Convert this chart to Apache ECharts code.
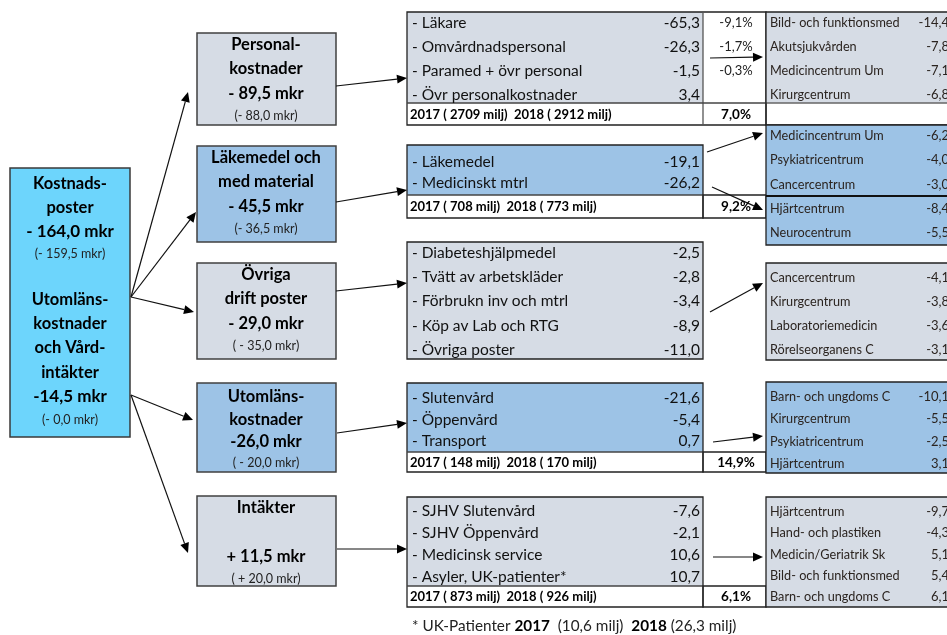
<!DOCTYPE html>
<html>
<head>
<meta charset="utf-8">
<script src="https://cdn.jsdelivr.net/npm/echarts@6/dist/echarts.min.js"></script>
<style>
html, body { margin: 0; padding: 0; background: #fff; }
#main { width: 947px; height: 635px; }
</style>
</head>
<body>
<div id="main"></div>
<script>
// totalt
var kostnadTotal = '- 164,0 mkr';
var kostnadPrev = '(- 159,5 mkr)';
var utomTotal = '-14,5 mkr';
var utomPrev = '(- 0,0 mkr)';

// huvudposter
var groupTitles = [['Personal-', 'kostnader'], ['Läkemedel och', 'med material'], ['Övriga', 'drift poster'], ['Utomläns-', 'kostnader'], ['Intäkter', '']];
var groupTotals = ['- 89,5 mkr', '- 45,5 mkr', '- 29,0 mkr', '-26,0 mkr', '+ 11,5 mkr'];
var groupPrev = ['(- 88,0 mkr)', '(- 36,5 mkr)', '( - 35,0 mkr)', '( - 20,0 mkr)', '( + 20,0 mkr)'];

// delposter
var personalRows = ['Läkare', 'Omvårdnadspersonal', 'Paramed + övr personal', 'Övr personalkostnader'];
var personalValues = [-65.3, -26.3, -1.5, 3.4];
var personalPct = [-9.1, -1.7, -0.3];
var lakemedelRows = ['Läkemedel', 'Medicinskt mtrl'];
var lakemedelValues = [-19.1, -26.2];
var ovrigaRows = ['Diabeteshjälpmedel', 'Tvätt av arbetskläder', 'Förbrukn inv och mtrl', 'Köp av Lab och RTG', 'Övriga poster'];
var ovrigaValues = [-2.5, -2.8, -3.4, -8.9, -11.0];
var utomRows = ['Slutenvård', 'Öppenvård', 'Transport'];
var utomValues = [-21.6, -5.4, 0.7];
var intakterRows = ['SJHV Slutenvård', 'SJHV Öppenvård', 'Medicinsk service', 'Asyler, UK-patienter*'];
var intakterValues = [-7.6, -2.1, 10.6, 10.7];

var milj2017 = [2709, 708, null, 148, 873];
var milj2018 = [2912, 773, null, 170, 926];
var growth = [7.0, 9.2, null, 14.9, 6.1];

// centrum
var personalUnits = ['Bild- och funktionsmed', 'Akutsjukvården', 'Medicincentrum Um', 'Kirurgcentrum'];
var personalUnitValues = [-14.4, -7.8, -7.1, -6.8];
var lakemedelUnits = ['Medicincentrum Um', 'Psykiatricentrum', 'Cancercentrum', 'Hjärtcentrum', 'Neurocentrum'];
var lakemedelUnitValues = [-6.2, -4.0, -3.0, -8.4, -5.5];
var ovrigaUnits = ['Cancercentrum', 'Kirurgcentrum', 'Laboratoriemedicin', 'Rörelseorganens C'];
var ovrigaUnitValues = [-4.1, -3.8, -3.6, -3.1];
var utomUnits = ['Barn- och ungdoms C', 'Kirurgcentrum', 'Psykiatricentrum', 'Hjärtcentrum'];
var utomUnitValues = [-10.1, -5.5, -2.5, 3.1];
var intakterUnits = ['Hjärtcentrum', 'Hand- och plastiken', 'Medicin/Geriatrik Sk', 'Bild- och funktionsmed', 'Barn- och ungdoms C'];
var intakterUnitValues = [-9.7, -4.3, 5.1, 5.4, 6.1];

var ukPatienter = [10.6, 26.3];

var detailRows = [personalRows, lakemedelRows, ovrigaRows, utomRows, intakterRows];
var detailValues = [personalValues, lakemedelValues, ovrigaValues, utomValues, intakterValues];
var unitRows = [personalUnits, lakemedelUnits, ovrigaUnits, utomUnits, intakterUnits];
var unitValues = [personalUnitValues, lakemedelUnitValues, ovrigaUnitValues, utomUnitValues, intakterUnitValues];

// layout
var FONT = 'Lato, "Open Sans", sans-serif';
var GREY = '#d6dce5';
var BLUE = '#9dc3e6';
var groupFill = [GREY, BLUE, GREY, BLUE, GREY];
var midTop = [33, 146, 263, 383, 496];
var midH = [92, 96, 96, 89, 90];
var tblTop = [12, 145, 242, 383, 497];
var tblBg = [103, 195, 359, 452, 586];
var tblBottom = [125, 218, 359, 472, 607];
var rowY0 = [23, 162, 253, 398, 511];
var rowStep = [24, 21, 24.2, 21.5, 22];
var rTop = [12, 125, 263, 382, 497];
var rBottom = [125, 245, 360, 473, 607];
var rRowY0 = [23, 136, 278, 397, 512];
var rRowStep = [24, 24.3, 24, 22.3, 21.3];

function fmt(v) {
    return v.toFixed(1).replace('.', ',');
}

function buildElements() {
    var els = [];
    function rect(x, y, w, h, fill, stroke, lw) {
        els.push({
            type: 'rect', shape: { x: x, y: y, width: w, height: h },
            style: { fill: fill || 'none', stroke: stroke || 'none', lineWidth: lw || 1 }
        });
    }
    function line(x1, y1, x2, y2, lw, color) {
        els.push({
            type: 'line', shape: { x1: x1, y1: y1, x2: x2, y2: y2 },
            style: { stroke: color || '#222', lineWidth: lw || 1 }
        });
    }
    function text(x, y, str, size, opt) {
        opt = opt || {};
        var st = {
            text: str,
            font: (opt.bold ? 'bold ' : '') + size + 'px ' + FONT,
            fill: opt.color || '#111',
            align: opt.align || 'left',
            verticalAlign: 'middle'
        };
        if (opt.rich) st.rich = opt.rich;
        els.push({ type: 'text', x: x, y: y, z: 10, style: st });
    }
    function arrow(x1, y1, x2, y2) {
        var a = Math.atan2(y2 - y1, x2 - x1);
        var L = 10, W = 4.5;
        var bx = x2 - L * Math.cos(a), by = y2 - L * Math.sin(a);
        line(x1, y1, bx, by, 1.2, '#111');
        els.push({
            type: 'polygon', z: 5,
            shape: { points: [[x2, y2], [bx - W * Math.sin(a), by + W * Math.cos(a)], [bx + W * Math.sin(a), by - W * Math.cos(a)]] },
            style: { fill: '#000' }
        });
    }

    // vänster ruta
    rect(10, 168, 120, 269, '#6dd5fc', '#3a3a3a', 1.5);
    var leftLines = [['Kostnads-', 184, 16.5, true], ['poster', 208, 16.5, true], [kostnadTotal, 232, 17, true], [kostnadPrev, 254, 12.5, false],
        ['Utomläns-', 300, 16.5, true], ['kostnader', 324, 16.5, true], ['och Vård-', 348, 16.5, true], ['intäkter', 373, 16.5, true],
        [utomTotal, 397, 17, true], [utomPrev, 420, 12.5, false]];
    leftLines.forEach(function (l) {
        text(70, l[1], l[0], l[2], { align: 'center', bold: l[3], color: l[3] ? '#000' : '#222' });
    });

    // pilar från vänster
    arrow(131, 297, 188, 92);
    arrow(131, 297, 196, 212);
    arrow(131, 297, 194, 312);
    arrow(131, 395, 193, 420);
    arrow(131, 395, 188, 553);

    for (var g = 0; g < 5; g++) {
        // mittruta
        var mt = midTop[g];
        rect(197, mt, 139, midH[g], groupFill[g], '#404040', 1.5);
        var off = g === 3 ? [14, 37, 59, 80] : [12, 36, 61, 83];
        text(266, mt + off[0], groupTitles[g][0], 16.5, { align: 'center', bold: true, color: '#000' });
        if (groupTitles[g][1]) text(266, mt + off[1], groupTitles[g][1], 16.5, { align: 'center', bold: true, color: '#000' });
        text(266, mt + off[2], groupTotals[g], 16.5, { align: 'center', bold: true, color: '#000' });
        text(266, mt + off[3], groupPrev[g], 12.5, { align: 'center', color: '#222' });

        // tabell
        var tt = tblTop[g], bg = tblBg[g], bot = tblBottom[g];
        rect(407, tt, 296, bg - tt, groupFill[g]);
        if (g === 0) {
            rect(407, tt, 359, bot - tt, 'none', '#222', 1.3);
            line(703, tt, 703, bot, 1.3, '#555');
            line(407, bg, 766, bg, 1.3, '#444');
        } else {
            rect(407, tt, 296, bot - tt, 'none', '#222', 1.3);
            if (bot > bg) {
                line(407, bg, 703, bg, 1.3, '#444');
                rect(703, bg, 63, bot - bg, 'none', '#222', 1.3);
            }
        }
        var rows = detailRows[g], vals = detailValues[g];
        for (var i = 0; i < rows.length; i++) {
            var y = rowY0[g] + rowStep[g] * i;
            text(412, y, '- ' + rows[i], 15.5, { color: '#111' });
            text(700, y, fmt(vals[i]), 15.5, { align: 'right', color: '#111' });
        }
        if (milj2017[g] != null) {
            var ty = (bg + bot) / 2 + 0.5;
            text(410, ty, '2017 ( ' + milj2017[g] + ' milj)  2018 ( ' + milj2018[g] + ' milj)', 13, { bold: true, color: '#000' });
            text(736, ty, fmt(growth[g]) + '%', 13.5, { align: 'center', bold: true, color: '#000' });
        }

        // centrumtabell
        var rt = rTop[g], rb = rBottom[g];
        if (g === 0) {
            rect(766, rt, 190, 103 - rt, groupFill[g]);
            line(766, 103, 956, 103, 1.5, '#666');
        } else {
            rect(766, rt, 190, rb - rt, groupFill[g]);
        }
        rect(766, rt, 190, rb - rt, 'none', '#222', 1.3);
        if (g === 1) line(766, 196, 956, 196, 2, '#111');
        var ur = unitRows[g], uv = unitValues[g];
        for (var k = 0; k < ur.length; k++) {
            var uy = rRowY0[g] + rRowStep[g] * k;
            text(770, uy, ur[k], 12.7, { color: '#2b2420' });
            text(949, uy, fmt(uv[k]), 13, { align: 'right', color: '#2b2420' });
        }
    }

    // procent personal
    for (var p = 0; p < personalPct.length; p++) {
        text(736, 23 + 24 * p, fmt(personalPct[p]) + '%', 13, { align: 'center', color: '#222' });
    }

    // pilar till tabeller
    arrow(336, 86, 407, 78);
    arrow(336, 202, 407, 190);
    arrow(336, 291, 407, 283);
    arrow(337, 433, 407, 423);
    arrow(337, 549, 407, 549);

    // pilar till centrum
    arrow(710, 58, 763, 57);
    arrow(707, 152, 763, 133);
    arrow(712, 187, 763, 210);
    arrow(710, 312, 763, 283);
    arrow(713, 442, 763, 436);
    arrow(713, 557, 763, 557);

    // fotnot
    text(412, 626, '* UK-Patienter {b|2017}  (' + fmt(ukPatienter[0]) + ' milj)  {b|2018} (' + fmt(ukPatienter[1]) + ' milj)', 15.3, {
        color: '#222',
        rich: { b: { font: 'bold 15.3px ' + FONT, fill: '#000' } }
    });
    return els;
}

var myChart = echarts.init(document.getElementById('main'));
myChart.setOption({
    backgroundColor: '#fff',
    animation: false,
    graphic: { elements: buildElements() }
});
window.onresize = function () {
    myChart.resize();
};
</script>
</body>
</html>
